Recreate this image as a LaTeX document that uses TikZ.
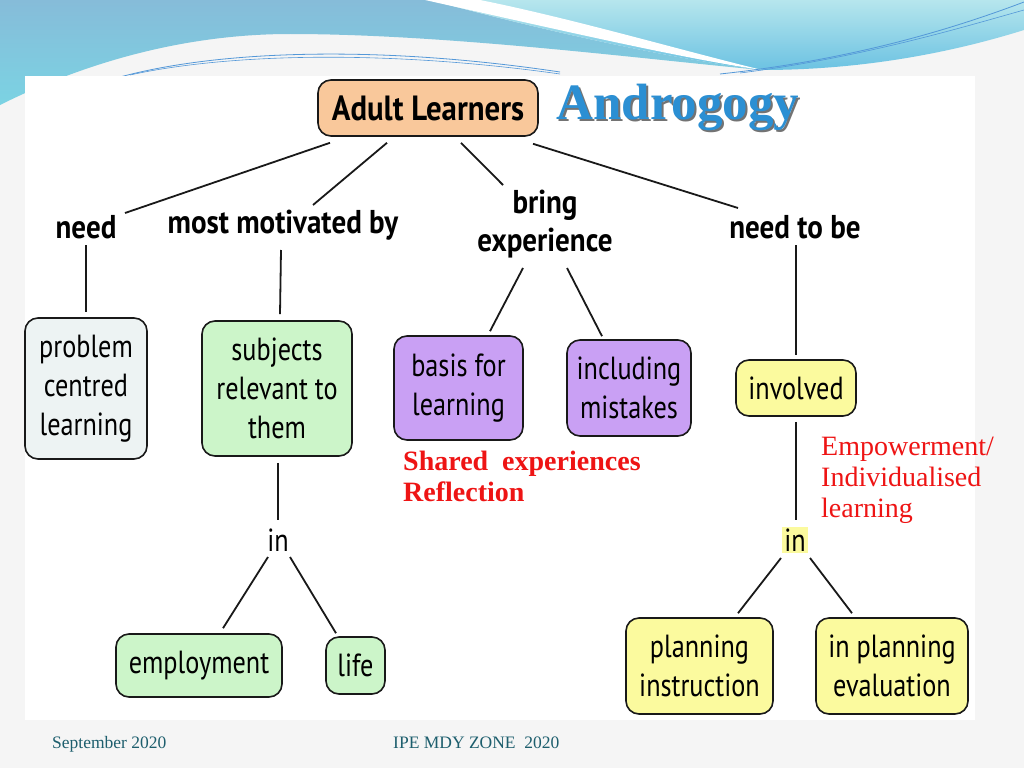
\documentclass[tikz,border=0pt]{standalone}
\usepackage{fontspec}
\setmainfont{Liberation Serif}
\newfontfamily\gill[FakeStretch=0.82]{PT Sans}
\newfontfamily\gillb[FakeStretch=0.88]{PT Sans Bold}
\definecolor{peach}{HTML}{F9C89B}
\definecolor{pgray}{HTML}{EDF3F3}
\definecolor{pgreen}{HTML}{CCF5C9}
\definecolor{ppurple}{HTML}{C9A0F4}
\definecolor{pyellow}{HTML}{FBFA9E}
\definecolor{rtext}{HTML}{EE1414}
\definecolor{foot}{HTML}{1D5E6D}
\definecolor{wblue}{HTML}{86BCD9}
\definecolor{wcyan}{HTML}{7BD3E3}
\definecolor{wlight}{HTML}{B6E6ED}
\definecolor{wdeep}{HTML}{6CC2E2}
\definecolor{andro}{HTML}{2B8FD3}
\begin{document}
\begin{tikzpicture}[x=1pt,y=-1pt,
  box/.style={draw=black!90, line width=1.6pt, rounded corners=13pt, align=center,
    font=\gill\fontsize{32}{39}\selectfont, inner sep=0pt},
  lbl/.style={font=\gillb\fontsize{33}{38}\selectfont, align=center, inner sep=0pt},
  intext/.style={font=\gill\fontsize{32}{32}\selectfont, inner sep=2pt},
  conn/.style={line width=1.8pt, draw=black!90},
  redtext/.style={text=rtext, align=left, anchor=west, inner sep=0pt},
  foottext/.style={text=foot, anchor=base west, inner sep=0pt, font=\fontsize{17.5}{19}\selectfont}]
\useasboundingbox (0,0) rectangle (1024,768);
% background
\fill[black!4] (0,0) rectangle (1024,768);
% wave: left region
\shade[top color=wblue, bottom color=wcyan]
  (0,0) -- (430,0) .. controls (560,35) and (680,60) .. (762,70)
  .. controls (650,60) and (450,34) .. (290,34)
  .. controls (200,34) and (100,55) .. (0,105) -- cycle;
% wave: right region
\shade[top color=wlight, bottom color=wdeep]
  (430,0) -- (1024,0) -- (1024,30)
  .. controls (960,50) and (870,70) .. (762,70)
  .. controls (680,60) and (560,35) .. (430,0) -- cycle;
% white swoosh
\fill[white] (425,0) .. controls (560,30) and (680,58) .. (762,70)
  .. controls (680,50) and (570,18) .. (480,0) -- cycle;
% thin lines
\draw[line width=0.8pt, draw=cyan!60!blue!70] (120,77) .. controls (220,50) and (380,45) .. (560,72);
\draw[line width=0.6pt, draw=cyan!60!blue!70] (130,75) .. controls (230,53) and (390,50) .. (560,74);
\draw[line width=0.8pt, draw=cyan!60!blue!70] (720,74) .. controls (850,60) and (950,30) .. (1024,2);
\draw[line width=0.6pt, draw=cyan!60!blue!70] (740,73) .. controls (860,58) and (960,28) .. (1024,10);
% panel
\fill[white] (25,76) rectangle (975,720);

% title
\node[box, fill=peach, minimum width=220pt, minimum height=56pt, font=\gillb\fontsize{35}{36}\selectfont] (adult) at (428,108) {Adult Learners};
\node[inner sep=0pt, text=andro, font=\bfseries\fontsize{51}{55}\selectfont] (andro) at (678,108)
  {\rlap{\raisebox{-2pt}{\kern2pt\textcolor{black!55}{Androgogy}}}Androgogy};

% labels
\node[lbl] (need) at (86,227) {need};
\node[lbl] (motiv) at (283,225) {most motivated by};
\node[lbl] (bring) at (545,224) {bring\\experience};
\node[lbl] (needbe) at (795,227) {need to be};

% boxes
\node[box, fill=pgray, minimum width=122pt, minimum height=141pt] (prob) at (86,388.5) {problem\\centred\\learning};
\node[box, fill=pgreen, minimum width=150pt, minimum height=135pt] (subj) at (277,388.5) {subjects\\relevant to\\them};
\node[box, fill=ppurple, minimum width=129pt, minimum height=104pt] (basis) at (458.5,388) {basis for\\learning};
\node[box, fill=ppurple, minimum width=124pt, minimum height=96pt] (incl) at (629,388) {including\\mistakes};
\node[box, fill=pyellow, minimum width=120pt, minimum height=56pt] (inv) at (796,388) {involved};
\node[intext] (in1) at (278,540) {in};
\node[intext, fill=pyellow] (in2) at (795,540) {in};
\node[box, fill=pgreen, minimum width=166pt, minimum height=63pt] (emp) at (199,665.5) {employment};
\node[box, fill=pgreen, minimum width=59pt, minimum height=57pt] (life) at (355.5,665.5) {life};
\node[box, fill=pyellow, minimum width=147pt, minimum height=96pt] (plani) at (699.5,666) {planning\\instruction};
\node[box, fill=pyellow, minimum width=152pt, minimum height=96pt] (plane) at (892,666) {in planning\\evaluation};

% red notes
\node[redtext, font=\bfseries\fontsize{28}{31}\selectfont] (shared) at (403,476) {Shared\ \ experiences\\Reflection};
\node[redtext, font=\fontsize{28}{31}\selectfont] (empow) at (821,480) {Empowerment/\\Individualised\\learning};

% connectors
\draw[conn] ([xshift=-98pt,yshift=-6pt]adult.south) -- ([xshift=39pt,yshift=14pt]need.center);
\draw[conn] ([xshift=-41pt,yshift=-6pt]adult.south) -- ([xshift=30pt,yshift=20pt]motiv.center);
\draw[conn] ([xshift=33pt,yshift=-6pt]adult.south) -- ([xshift=-42pt,yshift=39pt]bring.center);
\draw[conn] ([xshift=105pt,yshift=-7pt]adult.south) -- ([xshift=-57pt,yshift=19pt]needbe.center);
\draw[conn] ([yshift=-18pt]need.center) -- ([yshift=5pt]prob.north);
\draw[conn] ([xshift=-2pt,yshift=-25pt]motiv.center) -- ([xshift=3pt,yshift=6pt]subj.north);
\draw[conn] ([xshift=1pt,yshift=-6pt]subj.south) -- ([yshift=20pt]in1.center);
\draw[conn] ([xshift=-10pt,yshift=-17pt]in1.center) -- ([xshift=24pt,yshift=5pt]emp.north);
\draw[conn] ([xshift=12pt,yshift=-17pt]in1.center) -- ([xshift=-19.5pt,yshift=3pt]life.north);
\draw[conn] ([xshift=-22pt,yshift=-44pt]bring.center) -- ([xshift=31.5pt,yshift=4pt]basis.north);
\draw[conn] ([xshift=22pt,yshift=-44pt]bring.center) -- ([xshift=-27pt,yshift=3pt]incl.north);
\draw[conn] ([xshift=1pt,yshift=-18pt]needbe.center) -- ([yshift=4pt]inv.north);
\draw[conn] ([yshift=-5pt]inv.south) -- ([xshift=1pt,yshift=20pt]in2.center);
\draw[conn] ([xshift=-14pt,yshift=-18pt]in2.center) -- ([xshift=38.5pt,yshift=4pt]plani.north);
\draw[conn] ([xshift=15pt,yshift=-18pt]in2.center) -- ([xshift=-40pt,yshift=4pt]plane.north);

% footer
\node[foottext] (sept) at (52,748) {September 2020};
\node[foottext] (ipe) at (393,748) {IPE MDY ZONE\ \ 2020};
\end{tikzpicture}
\end{document}
